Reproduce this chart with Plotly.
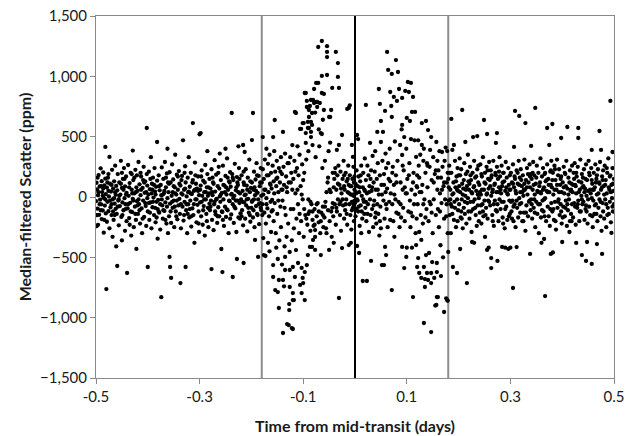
import plotly.graph_objects as go

# (time from mid-transit in 0.001 day units, median-filtered scatter in ppm)
pre_points = [
    (-500,-35),(-499,118),(-499,-242),(-498,62),(-497,-96),(-496,-231),(-496,14),(-495,182),(-494,-148),(-493,87),(-492,-22),(-491,238),(-490,-61),(-489,131),(-489,-183),(-488,41),(-487,-112),(-486,203),(-485,-8),(-485,-296),(-484,96),(-483,-71),(-482,415),(-482,152),(-481,-136),(-481,24),
    (-480,-763),(-479,78),(-479,-205),(-478,-40),(-477,160),(-476,-118),(-475,5),(-474,332),(-474,-260),(-473,110),(-472,-85),(-471,45),(-470,-150),(-469,225),(-468,-20),(-468,-330),(-467,70),(-466,-190),(-465,130),(-464,-55),(-463,260),(-462,-98),(-462,18),(-461,-410),(-461,92),
    (-460,-140),(-459,-572),(-459,55),(-458,190),(-457,-30),(-456,-235),(-455,120),(-454,-75),(-453,20),(-452,300),(-451,-165),(-450,-360),(-450,75),(-449,-45),(-448,150),(-447,-110),(-446,240),(-445,-10),(-444,-280),(-444,88),(-443,-60),(-442,170),(-441,-200),(-440,-630),(-441,35),
    (-439,-95),(-438,265),(-437,10),(-436,-175),(-435,115),(-434,-48),(-433,200),(-432,-320),(-431,60),(-430,-125),(-429,385),(-429,-15),(-428,140),(-427,-250),(-426,30),(-425,-80),(-424,225),(-423,-190),(-422,80),(-422,-430),(-421,-35),(-421,180),
    (-420,50),(-419,-140),(-418,290),(-417,-60),(-416,105),(-415,-220),(-414,15),(-413,170),(-412,-95),(-411,-300),(-410,75),(-409,-30),(-408,250),(-407,-165),(-406,35),(-405,130),(-404,-75),(-403,-240),(-402,190),(-402,572),(-401,-10),(-400,-580),(-401,95),
    (-400,-120),(-399,20),(-398,210),(-397,-190),(-396,65),(-395,-45),(-394,330),(-393,-260),(-392,110),(-391,-85),(-390,160),(-389,-5),(-388,-150),(-387,240),(-386,45),(-385,-210),(-384,85),(-383,-40),(-382,456),(-382,135),(-381,-100),(-381,-345),
    (-380,-25),(-379,180),(-378,-130),(-377,55),(-376,-270),(-375,100),(-374,-830),(-374,15),(-373,245),(-372,-70),(-371,-180),(-370,150),(-369,30),(-368,-115),(-367,290),(-366,-45),(-365,80),(-364,-220),(-363,195),(-362,-10),(-361,-300),(-361,120),(-362,400),
    (-360,40),(-359,-160),(-358,-497),(-358,205),(-357,-580),(-357,-55),(-356,120),(-355,-671),(-355,-215),(-354,10),(-353,270),(-352,-90),(-351,145),(-350,-30),(-349,-250),(-348,80),(-347,350),(-346,-120),(-345,20),(-344,185),(-343,-185),(-342,60),(-341,-70),
    (-340,215),(-339,-15),(-338,-140),(-337,-713),(-337,95),(-336,-260),(-335,30),(-334,175),(-333,-80),(-332,470),(-331,-195),(-330,60),(-329,-40),(-328,255),(-327,-580),(-327,120),(-326,-110),(-325,5),(-324,-300),(-323,160),(-322,-60),(-321,330),(-321,45),
    (-320,-170),(-319,85),(-318,-30),(-317,200),(-316,-245),(-315,25),(-314,-95),(-313,613),(-313,140),(-312,-150),(-311,50),(-310,-380),(-309,285),(-308,-20),(-307,110),(-306,-210),(-305,70),(-304,-65),(-303,170),(-302,-120),(-301,15),(-301,-290),
    (-300,520),(-299,-45),(-298,530),(-298,95),(-297,-160),(-296,220),(-295,10),(-294,-230),(-293,135),(-292,-75),(-291,40),(-290,-320),(-289,265),(-288,-20),(-287,-140),(-286,80),(-285,190),(-284,-90),(-283,-250),(-282,30),(-281,150),(-281,-55),(-285,380),
    (-280,-110),(-279,70),(-278,-30),(-277,-597),(-277,230),(-276,-190),(-275,15),(-274,120),(-273,-275),(-272,-60),(-271,305),(-270,45),(-269,-145),(-268,185),(-267,-15),(-266,-215),(-265,90),(-264,-85),(-263,250),(-262,-160),(-261,5),(-261,360),
    (-260,-40),(-259,140),(-258,-431),(-257,35),(-256,-622),(-256,-125),(-255,260),(-254,-20),(-253,-240),(-252,95),(-251,-80),(-250,175),(-249,-165),(-248,20),(-247,320),(-246,-110),(-245,60),(-244,-300),(-243,130),(-242,-35),(-241,205),(-241,-180),(-250,400),
    (-240,85),(-239,-145),(-238,696),(-238,25),(-237,190),(-236,-663),(-236,-60),(-235,140),(-234,-215),(-233,10),(-232,275),(-231,-95),(-230,55),(-229,-290),(-228,-514),(-228,165),(-227,-30),(-226,100),(-225,-170),(-224,240),(-223,-50),(-222,30),(-221,-135),(-225,420),
    (-220,-20),(-219,180),(-218,-110),(-217,50),(-216,431),(-216,-235),(-215,-547),(-215,120),(-214,-45),(-213,373),(-213,15),(-212,-180),(-211,230),(-210,-70),(-209,95),(-208,-285),(-207,160),(-206,-15),(-205,-130),(-204,310),(-203,40),(-202,-205),(-201,75),
    (-200,-90),(-199,472),(-199,120),(-198,-30),(-197,696),(-197,-170),(-196,60),(-195,210),(-194,-250),(-193,-356),(-193,15),(-192,145),(-191,-75),(-190,280),(-189,-140),(-188,35),(-187,-497),(-187,-20),(-186,175),(-185,-225),(-184,90),(-183,-50),(-182,240),(-181,-110),(-181,10),
]

pre_core_extra = [
    (-498,-150),(-495,40),(-493,-60),(-490,90),(-487,10),(-484,-190),(-482,-20),(-486,70),(-491,-110),(-497,160),
    (-478,120),(-476,50),(-473,-30),(-470,100),(-467,-120),(-465,-10),(-463,40),(-470,-60),(-476,190),(-464,-150),
    (-458,-80),(-455,10),(-452,110),(-449,-150),(-447,60),(-445,150),(-443,-100),(-456,-20),(-450,200),(-442,20),
    (-438,-60),(-436,80),(-433,-120),(-430,30),(-428,-30),(-426,160),(-424,-140),(-435,-230),(-431,190),(-423,40),
    (-418,-20),(-416,-110),(-413,60),(-410,-180),(-407,120),(-405,-50),(-403,40),(-414,200),(-409,140),(-420,-70),
    (-398,-50),(-396,-130),(-393,30),(-390,-40),(-388,100),(-385,20),(-383,-170),(-395,150),(-391,60),(-386,-90),
    (-378,90),(-376,-60),(-373,-20),(-370,-110),(-368,50),(-365,160),(-363,-80),(-371,20),(-366,-190),(-379,-120),
    (-359,110),(-356,-120),(-353,-40),(-350,90),(-347,30),(-345,-160),(-342,170),(-352,40),(-344,-30),(-348,-80),
    (-339,110),(-336,-60),(-333,20),(-330,-150),(-328,70),(-325,-60),(-323,-140),(-335,140),(-329,200),(-322,40),
    (-319,-100),(-317,30),(-314,120),(-311,-60),(-309,60),(-306,-20),(-303,50),(-316,-160),(-308,180),(-302,-220),
    (-299,60),(-296,-40),(-293,-110),(-290,120),(-288,40),(-286,-200),(-283,80),(-297,170),(-291,-20),(-284,10),
    (-279,-80),(-276,40),(-273,110),(-270,-120),(-268,-20),(-265,-160),(-262,70),(-275,160),(-271,-40),(-264,200),
    (-259,20),(-257,-120),(-254,100),(-251,40),(-248,-100),(-246,160),(-243,-30),(-255,-190),(-249,80),(-242,120),
    (-239,20),(-236,160),(-233,-80),(-230,-30),(-227,120),(-225,40),(-222,-180),(-235,-10),(-229,80),(-223,150),
    (-219,-160),(-217,-40),(-214,100),(-211,20),(-208,60),(-206,-90),(-203,-150),(-215,210),(-209,-20),(-202,130),
    (-199,-40),(-196,-110),(-194,80),(-191,50),(-189,180),(-186,-60),(-183,120),(-195,-20),(-188,-150),(-182,-90),
]

ingress_points = [
    (-180,120),(-179,-60),(-178,497),(-178,230),(-177,-340),(-177,20),(-176,-481),(-176,150),(-175,-130),(-174,310),(-173,-489),(-173,60),(-172,-220),(-171,400),(-171,-10),(-170,180),(-169,-95),(-168,-380),(-168,275),(-167,40),(-166,-160),(-165,-450),(-165,350),(-164,110),(-163,-40),(-162,-290),(-162,200),(-161,-120),(-161,70),
    (-160,-25),(-159,260),(-158,497),(-158,-564),(-158,-663),(-157,-200),(-157,130),(-156,380),(-155,638),(-155,-50),(-154,-771),(-154,210),(-153,-300),(-152,90),(-152,-420),(-151,300),(-150,-140),(-150,160),(-149,-514),(-149,-788),(-148,40),(-147,-688),(-147,-920),(-147,240),(-146,-360),(-145,120),(-144,-80),(-143,330),(-143,-250),(-142,60),(-141,-560),(-141,190),
    (-140,-30),(-139,539),(-139,-1127),(-139,-688),(-138,250),(-137,-740),(-137,100),(-136,-410),(-135,-605),(-135,-497),(-135,360),(-134,-150),(-133,170),(-132,-330),(-131,-1053),(-131,40),(-130,280),(-129,-220),(-128,-1061),(-128,120),(-127,-887),(-127,-937),(-126,-746),(-126,-605),(-126,-456),(-125,330),(-124,-100),(-123,200),(-122,-1086),(-122,-360),(-121,60),(-121,430),
    (-120,-1094),(-120,-854),(-120,-796),(-120,-580),(-119,150),(-118,-854),(-118,-260),(-117,300),(-116,705),(-116,-663),(-115,30),(-114,696),(-114,-440),(-113,-180),(-112,240),(-111,420),(-110,-547),(-110,-60),(-109,180),(-108,-300),(-107,350),(-106,564),(-106,-729),(-105,90),(-104,564),(-104,-200),(-103,-796),(-103,-588),(-102,270),(-101,613),(-101,-671),(-101,-20),(-100,-713),(-100,140),
    (-99,613),(-99,-330),(-98,200),(-97,862),(-97,-854),(-97,-622),(-96,-150),(-95,862),(-95,530),(-95,448),(-94,310),(-93,796),(-93,746),(-93,-564),(-92,-230),(-91,622),(-91,572),(-91,-481),(-90,380),(-89,721),(-89,663),(-89,572),(-88,-120),(-87,754),(-87,-414),(-86,-280),(-85,622),(-85,539),(-85,497),(-85,804),(-84,-60),(-83,696),(-83,597),(-83,-414),(-82,-190),(-81,804),(-81,-356),(-82,430),(-90,-20),
    (-80,-240),(-79,895),(-79,779),(-78,-100),(-77,700),(-77,-331),(-77,-274),(-77,-439),(-76,330),(-75,945),(-75,788),(-74,-160),(-73,746),(-73,788),(-72,-50),(-71,1243),(-71,945),(-70,-210),(-69,420),(-68,779),(-67,-300),(-66,530),(-66,-481),(-65,-130),(-64,1293),(-64,1003),(-64,862),(-64,522),(-63,240),(-62,-80),(-61,-250),(-60,854),(-60,721),(-70,560),(-62,640),
    (-59,-170),(-58,300),(-57,-40),(-56,-260),(-55,-300),(-54,1250),(-54,1202),(-54,1160),(-54,1011),(-53,120),(-52,-110),(-51,380),(-50,663),(-50,-439),(-49,-200),(-48,663),(-47,40),(-46,721),(-45,-330),(-44,904),(-44,-90),(-43,200),(-42,-160),(-41,80),(-41,-380),(-48,450),
    (-40,150),(-39,-60),(-38,240),(-37,1202),(-37,-230),(-36,60),(-35,390),(-35,-120),(-34,180),(-33,1110),(-33,995),(-33,-20),(-32,260),(-31,904),(-31,431),(-31,-837),(-30,100),(-29,-150),(-28,210),(-27,-280),(-26,30),(-25,514),(-25,-423),(-24,150),(-23,-70),(-22,300),(-21,-180),(-21,90),(-28,-40),
    (-20,60),(-19,-110),(-18,200),(-17,-20),(-16,130),(-15,730),(-15,-230),(-14,40),(-13,260),(-12,738),(-12,-398),(-12,100),(-11,-60),(-10,760),(-10,180),(-9,-150),(-8,-380),(-8,20),(-7,90),(-6,431),(-6,-40),(-5,150),(-4,332),(-4,-90),(-3,10),(-2,-200),(-2,120),(-1,-30),(-1,60),(-3,250),(-7,-270),
]

egress_points = [
    (0,-50),(1,110),(1,-160),(2,30),(3,220),(4,514),(4,-406),(4,-20),(5,90),(6,480),(6,-120),(7,170),(8,-464),(8,40),(9,-240),(10,130),(11,-70),(12,-300),(12,260),(13,10),(14,-180),(15,-696),(15,80),(16,200),(17,-40),(18,-140),(19,320),(19,50),
    (20,-90),(21,763),(21,140),(22,-200),(23,-696),(23,30),(24,260),(25,-60),(26,180),(27,-290),(28,90),(29,448),(29,-20),(30,-150),(31,-530),(31,220),(32,50),(33,-100),(34,340),(35,-250),(36,120),(37,-30),(38,210),(39,-170),(39,380),
    (40,60),(41,-220),(42,150),(43,539),(43,-60),(44,280),(45,-140),(46,895),(46,20),(47,-320),(48,771),(48,180),(49,-80),(50,630),(50,456),(50,-260),(51,100),(52,-564),(53,300),(54,539),(55,-30),(56,-564),(56,190),(57,-180),(58,713),(58,-414),(59,40),(59,360),
    (60,-481),(60,240),(61,-100),(62,1202),(62,70),(63,-250),(64,1053),(65,150),(66,-40),(67,400),(68,870),(68,-190),(69,30),(70,754),(71,1020),(71,663),(71,-771),(72,-60),(73,250),(74,-200),(75,829),(75,100),(76,-330),(77,460),(78,-20),(79,1135),(79,180),
    (80,-130),(81,796),(82,300),(83,1036),(84,-40),(85,895),(86,-250),(87,431),(88,120),(89,-170),(90,560),(91,821),(91,597),(91,348),(91,-414),(92,60),(93,-90),(94,220),(95,497),(95,-589),(96,-200),(97,879),(98,30),(99,-497),(99,400),
    (100,655),(100,-420),(101,150),(102,953),(103,-120),(104,870),(105,280),(106,630),(106,-30),(107,-250),(108,945),(108,480),(109,60),(110,705),(110,-420),(111,-160),(112,829),(112,-829),(113,200),(114,-60),(115,470),(116,705),(117,-300),(118,332),(118,-398),(119,90),(119,-180),
    (120,-580),(120,180),(121,-60),(122,470),(122,-506),(123,260),(124,-290),(124,-630),(125,40),(126,350),(127,-150),(128,-356),(128,-671),(129,613),(129,431),(130,100),(131,-220),(132,300),(133,400),(133,-580),(133,-1044),(134,-20),(135,-680),(135,-746),(136,200),(137,630),(137,-481),(138,-100),(139,-630),(139,280),
    (140,80),(141,555),(141,-688),(142,-200),(143,-464),(144,250),(145,390),(146,-60),(147,497),(147,-630),(147,-713),(147,-1119),(148,140),(149,-539),(150,-300),(151,330),(152,-20),(153,-671),(154,190),(155,-900),(156,-150),(157,456),(157,-895),(158,-547),(158,-622),(158,-829),(159,60),(159,300),
    (160,-829),(160,-100),(161,220),(162,-250),(163,380),(164,30),(165,-400),(166,-655),(166,160),(167,-50),(168,373),(169,250),(170,-500),(171,90),(172,-953),(172,-180),(173,300),(174,-20),(175,410),(176,-840),(177,120),(178,381),(178,-854),(179,-860),(179,-300),(177,-60),
]

transit_core_extra = [
    (-179,-150),(-175,60),(-171,-60),(-167,180),(-163,100),(-159,-110),(-156,30),(-152,150),(-148,-30),(-144,210),(-140,60),(-136,-90),(-132,80),(-128,280),(-124,120),(-119,-100),(-115,210),(-111,60),(-107,-140),(-103,20),
    (-98,-100),(-94,-180),(-90,-140),(-86,-40),(-82,-120),(-78,-230),(-74,-60),(-70,-120),(-66,-200),(-62,-150),(-58,-80),(-55,40),(-52,160),(-49,60),(-46,-120),(-43,-50),(-39,200),(-36,-90),(-33,110),(-30,-60),(-27,70),(-24,-20),(-21,180),(-18,-60),(-16,-140),(-14,150),(-11,30),(-9,90),(-6,-110),(-5,20),(-3,-60),(-1,170),
    (1,40),(3,-100),(5,-30),(7,-80),(9,80),(11,180),(13,-120),(16,-20),(18,60),(21,-40),(24,-140),(27,40),(30,150),(33,80),(36,-70),(40,-130),(44,60),(48,-200),(52,20),(56,100),(60,-60),(64,280),(68,130),(72,200),(76,20),(80,120),(84,-140),(88,-60),(92,260),(96,80),(100,30),(104,180),(108,-130),(112,120),(116,20),(120,80),(124,160),(128,40),(132,-60),(136,-170),(140,260),(144,-40),(148,-130),(152,120),(156,220),(160,160),(164,-120),(168,60),(172,120),(176,-160),(179,200),
]

post_points = [
    (180,-456),(180,150),(181,-30),(182,260),(183,-150),(184,60),(185,-300),(186,647),(186,200),(187,-80),(188,390),(188,20),(189,-580),(190,120),(191,431),(191,-190),(192,-40),(193,300),(194,80),(195,-250),(196,170),(197,-630),(197,-20),(198,240),(199,-110),(199,50),
    (200,180),(201,-60),(202,320),(203,-431),(203,40),(204,-170),(205,230),(206,-20),(207,721),(207,110),(208,-260),(209,70),(210,-90),(211,280),(212,-140),(213,456),(213,10),(214,190),(215,-220),(216,-713),(216,90),(217,-50),(218,350),(219,-120),(219,130),
    (220,60),(221,-180),(222,250),(223,-40),(224,140),(225,-290),(226,-373),(226,30),(227,200),(228,497),(228,-100),(229,80),(230,-380),(230,300),(231,-20),(232,160),(233,-150),(234,50),(235,-240),(236,505),(236,230),(237,-70),(238,120),(239,-10),(239,-200),
    (240,100),(241,-130),(242,270),(243,20),(244,-220),(245,170),(246,-60),(247,330),(248,-160),(249,638),(249,60),(250,-30),(251,-331),(251,200),(252,110),(253,-90),(254,250),(255,522),(255,-439),(255,30),(256,-180),(257,150),(258,-420),(258,70),(259,-40),(259,290),
    (260,140),(261,-70),(262,220),(263,-589),(263,-506),(263,10),(264,180),(265,-150),(266,60),(267,300),(268,-240),(269,100),(270,-30),(271,200),(272,448),(272,-110),(273,40),(274,530),(274,250),(275,-530),(275,-60),(276,150),(277,-200),(278,80),(279,-20),(279,330),
    (280,170),(281,-100),(282,30),(283,260),(284,-414),(284,90),(285,-170),(286,200),(287,-40),(288,130),(289,-260),(290,-420),(290,50),(291,290),(292,-80),(293,160),(294,-190),(295,20),(296,-430),(296,240),(297,100),(298,-30),(299,180),(299,-140),
    (300,-420),(300,60),(301,200),(302,-120),(303,120),(304,-30),(305,-754),(305,270),(306,-200),(307,415),(307,80),(308,-60),(309,713),(309,150),(310,-250),(311,30),(312,-415),(312,220),(313,-90),(314,110),(315,-170),(316,300),(317,672),(317,-10),(318,160),(319,-130),(319,40),
    (320,230),(321,-50),(322,90),(323,-200),(324,180),(325,10),(326,-130),(327,310),(328,60),(329,613),(329,-280),(330,140),(331,-70),(332,240),(333,20),(334,-160),(335,120),(336,-40),(337,270),(338,-472),(338,80),(339,-110),(340,423),(339,190),
    (340,-20),(341,150),(342,-180),(343,60),(344,290),(345,-90),(346,180),(347,20),(348,738),(348,-250),(349,110),(350,-40),(351,260),(352,-140),(353,40),(354,200),(355,-300),(356,90),(357,-60),(358,320),(359,-170),(359,30),(360,-380),
    (361,170),(362,-30),(363,240),(364,-120),(365,-348),(365,80),(366,190),(367,-821),(367,-10),(368,130),(369,-200),(370,50),(371,572),(371,270),(372,-80),(373,150),(374,-160),(375,431),(375,40),(376,-240),(377,210),(378,-472),(378,100),(379,-50),(379,300),
    (380,80),(381,605),(381,-120),(382,-460),(382,200),(383,20),(384,-190),(385,260),(386,-40),(387,140),(388,-270),(389,60),(390,310),(391,-90),(392,180),(393,-20),(394,230),(395,-150),(396,100),(397,-60),(398,489),(398,170),(399,-220),(400,-373),(399,40),
    (401,120),(402,-80),(403,250),(404,30),(405,-160),(406,190),(407,-30),(408,300),(409,-240),(410,580),(410,70),(411,-110),(412,160),(413,-20),(414,-290),(415,220),(416,50),(417,-140),(418,110),(419,-60),(419,260),(415,-200),
    (420,40),(421,-170),(422,200),(423,-50),(424,280),(425,100),(426,-230),(427,-381),(427,30),(428,170),(429,-90),(430,250),(431,572),(431,489),(431,-30),(432,130),(433,-200),(434,60),(435,310),(436,-120),(437,10),(438,-481),(438,190),(439,-60),(439,80),
    (440,160),(441,-40),(442,230),(443,-190),(444,70),(445,-100),(446,-530),(446,270),(447,10),(448,-373),(448,140),(449,-220),(450,50),(451,300),(452,-80),(453,180),(454,-150),(455,30),(456,240),(457,390),(457,-555),(457,-10),(458,110),(459,-250),(459,60),
    (460,-30),(461,200),(462,-140),(463,80),(464,270),(465,-60),(466,150),(467,-390),(467,20),(468,-200),(469,230),(470,-90),(471,120),(472,547),(472,-20),(473,290),(474,-160),(475,390),(475,60),(476,-280),(477,-472),(477,170),(478,-50),(479,220),(479,-120),
    (480,90),(481,-180),(482,260),(483,-20),(484,140),(485,-250),(486,30),(487,200),(488,-90),(489,320),(490,-140),(491,60),(492,-40),(493,796),(493,180),(494,-210),(495,-298),(495,100),(496,-10),(497,373),(497,240),(498,-120),(499,50),(500,-60),(500,150),
]

post_core_extra = [
    (181,80),(183,200),(185,-60),(188,-140),(190,30),(193,-90),(195,130),(197,60),(184,-20),(198,-200),
    (201,90),(203,180),(205,-120),(208,20),(210,140),(212,-40),(214,60),(217,210),(206,-180),(218,-10),
    (221,110),(223,180),(225,40),(228,-40),(230,90),(232,-90),(234,170),(237,20),(224,-120),(238,260),
    (241,40),(243,-70),(245,60),(247,-120),(250,120),(252,-150),(254,20),(257,-30),(244,190),(256,220),
    (261,90),(263,160),(265,40),(268,-60),(270,110),(272,180),(274,-120),(277,40),(266,-200),(278,210),
    (281,60),(283,-40),(285,120),(287,200),(290,-100),(292,80),(294,30),(297,-160),(286,-220),(298,60),
    (301,-40),(303,-180),(305,110),(308,170),(310,50),(312,-30),(314,200),(317,100),(306,-80),(318,-60),
    (321,140),(323,40),(325,-200),(327,110),(330,-130),(332,80),(334,190),(337,-30),(326,60),(338,170),
    (341,-60),(343,200),(345,100),(347,-130),(350,160),(352,50),(354,-60),(357,120),(346,-20),(358,40),
    (361,-110),(363,60),(365,-20),(367,200),(370,140),(372,40),(374,100),(377,-100),(366,-160),(378,220),
    (381,140),(383,-100),(385,60),(387,-200),(390,100),(392,-40),(394,40),(397,150),(386,230),(398,-120),
    (401,-170),(403,80),(405,200),(407,90),(410,-60),(412,20),(414,120),(417,60),(406,-90),(418,-200),
    (421,100),(423,150),(425,-80),(427,200),(430,-60),(432,40),(434,-120),(437,120),(426,90),(438,-20),
    (441,90),(443,40),(445,150),(447,-120),(450,-20),(452,200),(454,60),(457,140),(446,-70),(458,-160),
    (461,60),(463,-70),(465,120),(467,180),(470,30),(472,110),(474,-40),(477,80),(466,-140),(478,140),
    (481,20),(483,100),(485,-60),(487,-150),(490,80),(492,170),(494,40),(497,-80),(486,240),(498,110),
]

transit_edges = [-0.18, 0.18]
mid_transit = [0.0]
x_ticks = [-0.5, -0.3, -0.1, 0.1, 0.3, 0.5]
x_tick_labels = ["-0.5", "-0.3", "-0.1", "0.1", "0.3", "0.5"]

all_points = (pre_points + pre_core_extra + ingress_points + egress_points
              + transit_core_extra + post_points + post_core_extra)
times = [p[0] / 1000.0 for p in all_points]
scatter = [p[1] for p in all_points]

fig = go.Figure()
fig.add_trace(go.Scatter(
    x=times, y=scatter, mode="markers",
    marker=dict(color="#000000", size=4.3, line=dict(width=0)),
    showlegend=False, hoverinfo="skip",
))

for xv in transit_edges:
    fig.add_shape(type="line", x0=xv, x1=xv, y0=-1500, y1=1500, xref="x", yref="y",
                  line=dict(color="#8c8c8c", width=2), layer="below")
for xv in mid_transit:
    fig.add_shape(type="line", x0=xv, x1=xv, y0=-1500, y1=1500, xref="x", yref="y",
                  line=dict(color="#000000", width=2), layer="below")

tick_font = dict(family="Lato, 'Open Sans', sans-serif", size=15, color="#1a1a1a")
title_font = dict(family="Lato, 'Open Sans', sans-serif", size=16, color="#1a1a1a")
fig.update_layout(
    width=639, height=436,
    margin=dict(l=96, r=25, t=16, b=58),
    paper_bgcolor="white", plot_bgcolor="white",
    font=tick_font,
    xaxis=dict(
        range=[-0.5, 0.5], tickvals=x_ticks, ticktext=x_tick_labels,
        showgrid=False, zeroline=False, showline=True, linecolor="#898989", linewidth=1,
        mirror=True, ticks="outside", ticklen=5, tickcolor="#898989",
        tickfont=tick_font, automargin=False,
        title=dict(text="<b>Time from mid-transit (days)</b>", font=title_font, standoff=16),
    ),
    yaxis=dict(
        range=[-1500, 1500], dtick=500, tickformat=",",
        showgrid=False, zeroline=False, showline=True, linecolor="#898989", linewidth=1,
        mirror=True, ticks="outside", ticklen=5, tickcolor="#898989",
        tickfont=tick_font, automargin=False,
        title=dict(text="<b>Median-filtered Scatter (ppm)</b>", font=title_font, standoff=4),
    ),
)

fig.write_html("out.html")
